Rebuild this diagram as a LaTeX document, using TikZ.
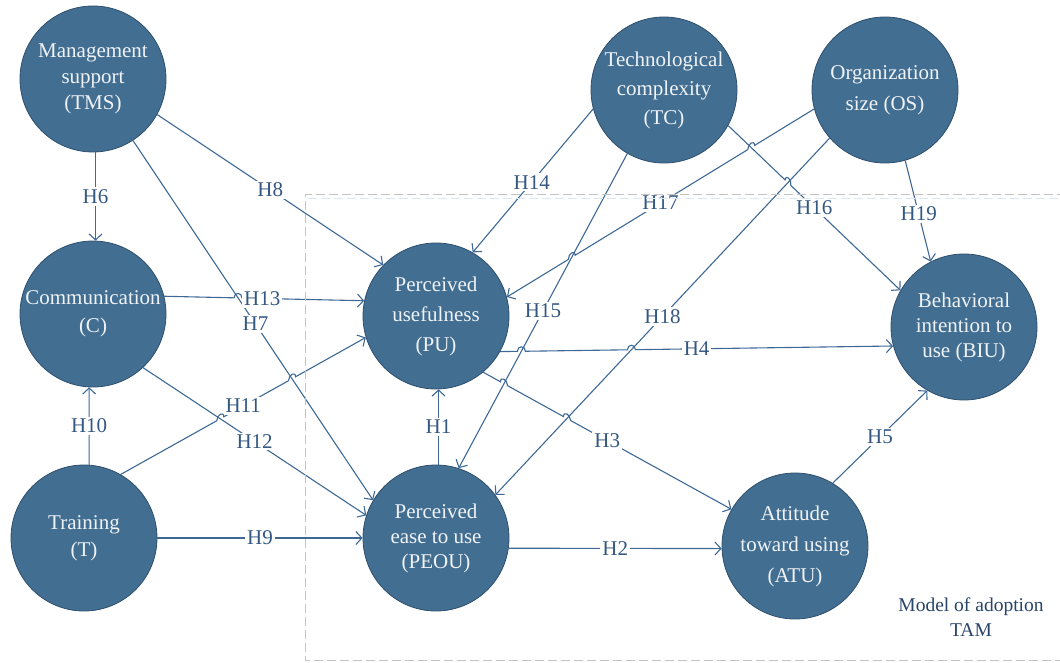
\documentclass[tikz,border=0pt]{standalone}
\usepackage{fontspec}
\setmainfont{Liberation Serif}
\usetikzlibrary{arrows.meta,calc}
\definecolor{cfill}{RGB}{66,110,146}
\definecolor{cdraw}{RGB}{45,78,108}
\definecolor{cline}{RGB}{62,105,150}
\definecolor{clab}{RGB}{52,88,130}
\definecolor{ctext}{RGB}{240,243,246}
\definecolor{cdash}{RGB}{195,195,195}
\definecolor{cdashb}{RGB}{218,230,243}
\definecolor{cmodel}{RGB}{40,68,105}
\begin{document}
\begin{tikzpicture}[x=1pt,y=-1pt,
  construct/.style={circle, minimum size=146pt, inner sep=0pt, fill=cfill, draw=cdraw, line width=0.8pt, text=ctext, align=center, font=\fontsize{21}{28}\selectfont},
  edge/.style={draw=cline, line width=1.1pt, -{Straight Barb[length=6pt,width=13pt]}},
  lab/.style={fill=white, inner sep=2pt, text=clab, font=\fontsize{21}{25}\selectfont},
  hopline/.style={draw=cline, line width=1.1pt}
]
\useasboundingbox (0,0) rectangle (1060,663);

% constructs
\node[construct, font=\fontsize{21}{26}\selectfont] (TMS) at (93,79) {Management\\support\\(TMS)};
\node[construct] (C) at (93,314) {Communication\\(C)};
\node[construct, font=\fontsize{21}{27}\selectfont] (T) at (84,538) {Training\\(T)};
\node[construct, font=\fontsize{21}{30}\selectfont] (PU) at (436,316) {Perceived\\usefulness\\(PU)};
\node[construct, font=\fontsize{21}{25}\selectfont] (PEOU) at (436,538) {Perceived\\ease to use\\(PEOU)};
\node[construct, font=\fontsize{21}{29}\selectfont] (TC) at (664,90) {Technological\\complexity\\(TC)};
\node[construct, font=\fontsize{21}{31}\selectfont] (OS) at (885,90) {Organization\\size (OS)};
\node[construct, font=\fontsize{21}{25}\selectfont] (BIU) at (964,327) {Behavioral\\intention to\\use (BIU)};
\node[construct, font=\fontsize{21}{31}\selectfont] (ATU) at (795,546) {Attitude\\toward using\\(ATU)};

% end points
\coordinate (s1) at (PEOU.88);   \coordinate (e1) at (PU.-88);
\coordinate (s2) at (PEOU.-8);   \coordinate (e2) at (ATU.182);
\coordinate (s3) at (PU.-50);    \coordinate (e3) at (ATU.150);
\coordinate (s4) at (PU.-29);    \coordinate (e4) at (BIU.195.5);
\coordinate (s5) at (ATU.59.6);  \coordinate (e5) at (BIU.240.4);
\coordinate (s6) at (TMS.-88);   \coordinate (e6) at (C.88);
\coordinate (s7) at (TMS.-57.6); \coordinate (e7) at (PEOU.149);
\coordinate (s8) at (TMS.-29.6); \coordinate (e8) at (PU.136);
\coordinate (s9) at (T.0);       \coordinate (e9) at (PEOU.180);
\coordinate (s10) at (T.86);     \coordinate (e10) at (C.-93);
\coordinate (s11) at (T.60);     \coordinate (e11) at (PU.197);
\coordinate (s12) at (C.-47.7);  \coordinate (e12) at (PEOU.162);
\coordinate (s13) at (C.14.6);   \coordinate (e13) at (PU.168);
\coordinate (s14) at (TC.195.7); \coordinate (e14) at (PU.60);
\coordinate (s15) at (TC.240.6); \coordinate (e15) at (PEOU.72);
\coordinate (s16) at (TC.-29.4); \coordinate (e16) at (BIU.150.7);
\coordinate (s17) at (OS.195.5); \coordinate (e17) at (PU.15.7);
\coordinate (s18) at (OS.221.8); \coordinate (e18) at (PEOU.36.4);
\coordinate (s19) at (OS.-74.3); \coordinate (e19) at (BIU.117.5);

% crossings with hops
\coordinate (x13a) at (intersection of s13--e13 and s7--e7);
\coordinate (x11a) at (intersection of s11--e11 and s12--e12);
\coordinate (x11b) at (intersection of s11--e11 and s7--e7);
\coordinate (x4a) at (intersection of s4--e4 and s15--e15);
\coordinate (x4b) at (intersection of s4--e4 and s18--e18);
\coordinate (x3a) at (intersection of s3--e3 and s15--e15);
\coordinate (x3b) at (intersection of s3--e3 and s18--e18);
\coordinate (x17a) at (intersection of s17--e17 and s16--e16);
\coordinate (x17b) at (intersection of s17--e17 and s15--e15);
\coordinate (x16a) at (intersection of s16--e16 and s18--e18);

% straight connectors
\draw[edge] (s1) -- (e1);
\draw[edge] (s2) -- (e2);
\draw[edge] (s5) -- (e5);
\draw[edge] (s6) -- (e6);
\draw[edge] (s7) -- (e7);
\draw[edge] (s8) -- (e8);
\draw[edge] (s9) -- (e9);
\draw[edge] (s10) -- (e10);
\draw[edge] (s12) -- (e12);
\draw[edge] (s14) -- (e14);
\draw[edge] (s15) -- (e15);
\draw[edge] (s18) -- (e18);
\draw[edge] (s19) -- (e19);

% connectors with line hops
\draw[edge] (s13) -- ($(x13a)!4pt!(s13)$) .. controls +(0,-6) and +(0,-6) .. ($(x13a)!4pt!(e13)$) -- (e13);
\draw[edge] (s11) -- ($(x11a)!4pt!(s11)$) .. controls +(0,-6) and +(0,-6) .. ($(x11a)!4pt!(e11)$)
  -- ($(x11b)!4pt!(s11)$) .. controls +(0,-6) and +(0,-6) .. ($(x11b)!4pt!(e11)$) -- (e11);
\draw[edge] (s4) -- ($(x4a)!4pt!(s4)$) .. controls +(0,-6) and +(0,-6) .. ($(x4a)!4pt!(e4)$)
  -- ($(x4b)!4pt!(s4)$) .. controls +(0,-6) and +(0,-6) .. ($(x4b)!4pt!(e4)$) -- (e4);
\draw[edge] (s3) -- ($(x3a)!4pt!(s3)$) .. controls +(0,-6) and +(0,-6) .. ($(x3a)!4pt!(e3)$)
  -- ($(x3b)!4pt!(s3)$) .. controls +(0,-6) and +(0,-6) .. ($(x3b)!4pt!(e3)$) -- (e3);
\draw[edge] (s17) -- ($(x17a)!4pt!(s17)$) .. controls +(0,-6) and +(0,-6) .. ($(x17a)!4pt!(e17)$)
  -- ($(x17b)!4pt!(s17)$) .. controls +(0,-6) and +(0,-6) .. ($(x17b)!4pt!(e17)$) -- (e17);
\draw[edge] (s16) -- ($(x16a)!4pt!(s16)$) .. controls +(1,-6) and +(1,-6) .. ($(x16a)!4pt!(e16)$) -- (e16);

% labels
\node[lab] (l1) at ($(s1)!0.5!(e1)$) {H1};
\node[lab] (l2) at ($(s2)!0.5!(e2)$) {H2};
\node[lab] (l3) at ($(s3)!0.5!(e3)$) {H3};
\node[lab] (l4) at ($(s4)!0.5!(e4)$) {H4};
\node[lab] (l5) at ($(s5)!0.5!(e5)$) {H5};
\node[lab] (l6) at ($(s6)!0.5!(e6)$) {H6};
\node[lab] (l7) at ($(s7)!0.51!(e7)$) {H7};
\node[lab] (l8) at ($(s8)!0.5!(e8)$) {H8};
\node[lab] (l9) at ($(s9)!0.5!(e9)$) {H9};
\node[lab] (l10) at ($(s10)!0.5!(e10)$) {H10};
\node[lab] (l11) at ($(s11)!0.5!(e11)$) {H11};
\node[lab] (l12) at ($(s12)!0.5!(e12)$) {H12};
\node[lab] (l13) at ($(s13)!0.49!(e13)$) {H13};
\node[lab] (l14) at ($(s14)!0.51!(e14)$) {H14};
\node[lab] (l15) at ($(s15)!0.5!(e15)$) {H15};
\node[lab] (l16) at ($(s16)!0.5!(e16)$) {H16};
\node[lab] (l17) at ($(s17)!0.5!(e17)$) {H17};
\node[lab] (l18) at ($(s18)!0.5!(e18)$) {H18};
\node[lab] (l19) at ($(s19)!0.53!(e19)$) {H19};

% model frame
\draw[cdashb, line width=1pt, dash pattern=on 9pt off 4pt] (308,199) -- (1066,199);
\draw[cdash, line width=1pt, dash pattern=on 9pt off 4pt] (1066,195) -- (305,195) -- (305,660) -- (1066,660);
\node[text=cmodel, align=center, font=\fontsize{19.5}{25}\selectfont] (model) at (971,617) {Model of adoption\\TAM};
\end{tikzpicture}
\end{document}
